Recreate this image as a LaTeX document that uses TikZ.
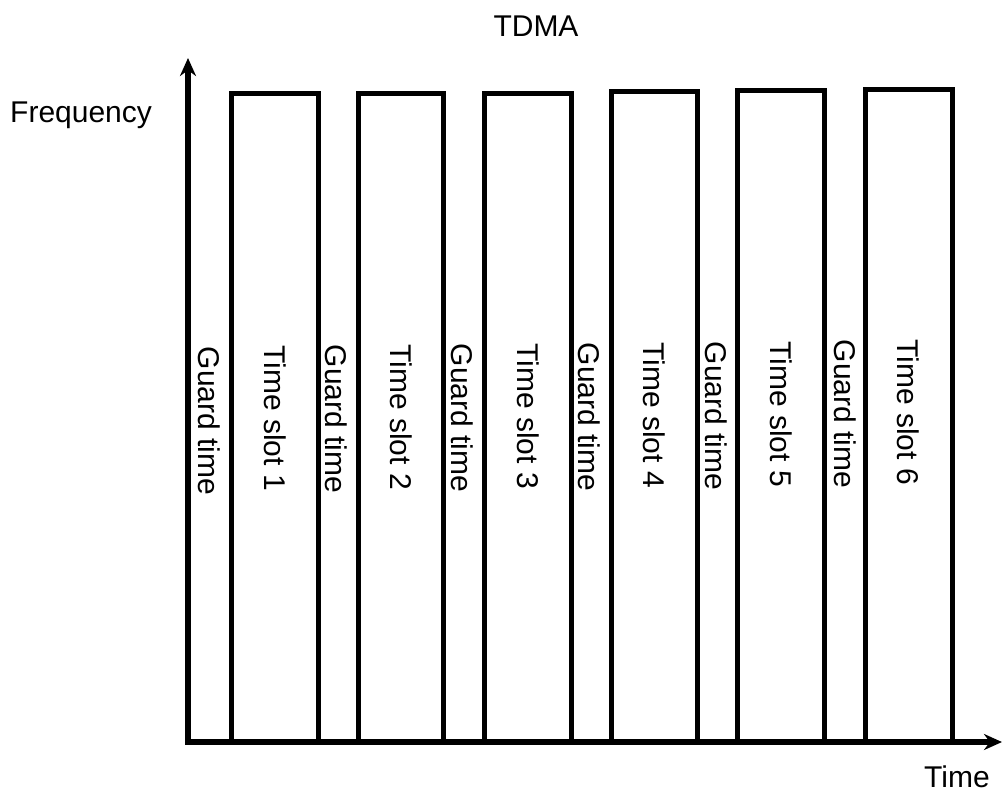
\documentclass[tikz,border=0pt]{standalone}
\usepackage{fontspec}
\setmainfont{Liberation Sans}
\usetikzlibrary{positioning,arrows.meta}

\begin{document}
\begin{tikzpicture}[
		x=1pt, y=-1pt,
		>={Stealth[length=18pt,width=16pt]},
		axis/.style={line width=5.5pt},
		slot/.style={line width=5pt, line join=miter},
		lbl/.style={font=\fontsize{30}{36}\selectfont, inner sep=0pt},
		vlbl/.style={lbl, rotate=-90}
	]
	\useasboundingbox (0,0) rectangle (1003,796);

	% Axes
	\coordinate (O) at (188,742);
	\coordinate (Ytip) at (188,58);
	\coordinate (Xtip) at (1002,742);
	\draw[axis,->] (O) -- (Ytip);
	\draw[axis,->] ([xshift=-2.75pt]O) -- (Xtip);

	% Time slots
	\draw[slot] (231,742) -- (231,93) -- (318,93) -- (318,742);
	\draw[slot] (358,742) -- (358,93) -- (443,93) -- (443,742);
	\draw[slot] (484,742) -- (484,93) -- (571,93) -- (571,742);
	\draw[slot] (611,742) -- (611,91) -- (697,91) -- (697,742);
	\draw[slot] (737,742) -- (737,90) -- (824,90) -- (824,742);
	\draw[slot] (865,742) -- (865,89) -- (952,89) -- (952,742);

	% Labels
	\node[lbl] (title) at (536,26) {TDMA};
	\node[lbl, anchor=west] (freq) at (10,115) {Frequency};
	\node[lbl] (time) at (957,777) {Time};

	\node[vlbl] (g1) at (209,421) {Guard time};
	\node[vlbl] (s1) at (275,418) {Time slot 1};
	\node[vlbl] (g2) at (336,419) {Guard time};
	\node[vlbl] (s2) at (401,417) {Time slot 2};
	\node[vlbl] (g3) at (462,418) {Guard time};
	\node[vlbl] (s3) at (528,416) {Time slot 3};
	\node[vlbl] (g4) at (589,417) {Guard time};
	\node[vlbl] (s4) at (654,415) {Time slot 4};
	\node[vlbl] (g5) at (716,416) {Guard time};
	\node[vlbl] (s5) at (781,414) {Time slot 5};
	\node[vlbl] (g6) at (845,414) {Guard time};
	\node[vlbl] (s6) at (908,412) {Time slot 6};
\end{tikzpicture}
\end{document}
